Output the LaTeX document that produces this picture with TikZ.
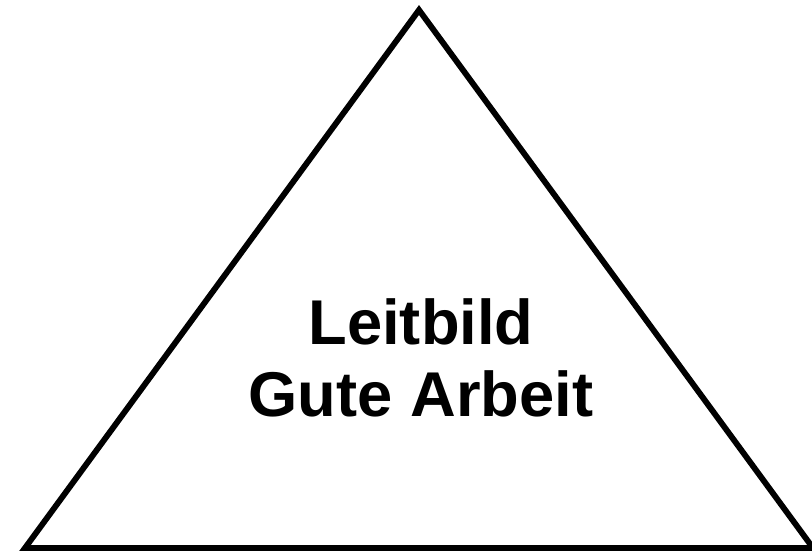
\documentclass[tikz,border=0pt]{standalone}
\usepackage{fontspec}
\setmainfont{Liberation Sans}
\begin{document}
\begin{tikzpicture}[x=0.03cm,y=-0.03cm]
\useasboundingbox (0,0) rectangle (812,551);
\clip (0,0) rectangle (812,551);
\coordinate (top) at (419,10);
\coordinate (left) at (25,548);
\coordinate (right) at (813,548);
\draw[line width=5pt, line join=miter] (top) -- (left) -- (right) -- cycle;
\node[align=center, inner sep=0pt, font=\bfseries\fontsize{54}{61}\selectfont] (leit) at (421,358)
{Leitbild\\Gute Arbeit};
\end{tikzpicture}
\end{document}
